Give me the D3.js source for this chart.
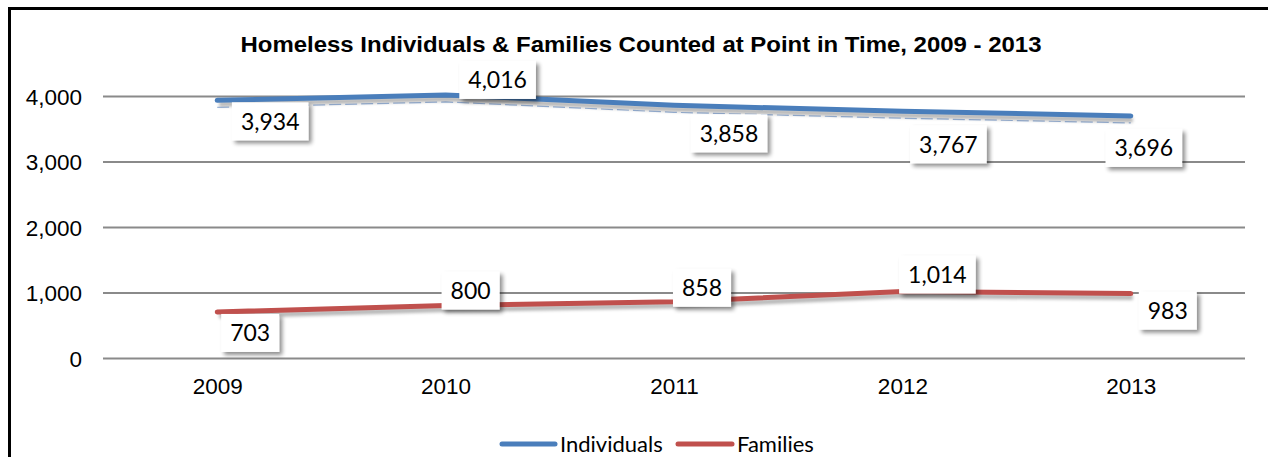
<!DOCTYPE html>
<html><head><meta charset="utf-8">
<script src="https://cdn.jsdelivr.net/npm/d3@7/dist/d3.min.js"></script>
<style>
html,body{margin:0;padding:0;background:#fff;}
svg{display:block;}
</style></head>
<body>
<svg id="chart" width="1268" height="457"></svg>
<script>
const title = "Homeless Individuals & Families Counted at Point in Time, 2009 - 2013";
const years = ["2009","2010","2011","2012","2013"];
const individuals = [3934,4016,3858,3767,3696];
const families = [703,800,858,1014,983];
const yTicks = [0,1000,2000,3000,4000];
const seriesNames = ["Individuals","Families"];
const seriesColors = ["#4a7ebb","#c0504d"];
// label placement offsets (layout only)
const indLabelOffsets = [[53,21],[52,-15],[55,28],[46,33],[13,32]];
const famLabelOffsets = [[33,21],[25,-15],[28,-14],[35,-17],[37,17]];

const svg = d3.select("#chart");
const defs = svg.append("defs");
const sh = defs.append("filter").attr("id","boxShadow").attr("x","-20%").attr("y","-20%").attr("width","150%").attr("height","160%");
sh.append("feGaussianBlur").attr("in","SourceAlpha").attr("stdDeviation",2).attr("result","b");
sh.append("feOffset").attr("in","b").attr("dx",3).attr("dy",3).attr("result","o");
sh.append("feComponentTransfer").attr("in","o").attr("result","o2").append("feFuncA").attr("type","linear").attr("slope",0.45);
const m = sh.append("feMerge"); m.append("feMergeNode").attr("in","o2"); m.append("feMergeNode").attr("in","SourceGraphic");
const ls = defs.append("filter").attr("id","lineShadow").attr("x","-5%").attr("y","-50%").attr("width","110%").attr("height","200%");
ls.append("feGaussianBlur").attr("stdDeviation",1.5);

// frame
svg.append("rect").attr("x",9.5).attr("y",8.5).attr("width",1300).attr("height",500)
  .attr("fill","#fff").attr("stroke","#000").attr("stroke-width",3);

const x = d3.scalePoint().domain(years).range([103,1245]).padding(0.5);
const y = d3.scaleLinear().domain([0,4000]).range([358,96]);

// gridlines + y axis
const yAxis = d3.axisLeft(y).tickValues(yTicks).tickSize(-(1245-103)).tickPadding(21).tickFormat(d3.format(","));
const gy = svg.append("g").attr("transform","translate(103,0)").call(yAxis);
gy.select(".domain").remove();
gy.selectAll(".tick line").attr("stroke","#8a8a8a").attr("stroke-width",2);
gy.selectAll(".tick text").attr("font-family","'Liberation Sans', Arial, sans-serif").attr("font-size",22.5).attr("fill","#000").attr("dy","0.36em").attr("x",-21);

// x axis labels
const xAxis = d3.axisBottom(x).tickSize(0).tickPadding(20);
const gx = svg.append("g").attr("transform","translate(0,358)").call(xAxis);
gx.select(".domain").remove();
gx.selectAll(".tick text").attr("font-family","'Liberation Sans', Arial, sans-serif").attr("font-size",22.5).attr("fill","#000");

// title
svg.append("text").attr("x",641).attr("y",52).attr("text-anchor","middle")
  .attr("font-family","'Liberation Sans', Arial, sans-serif").attr("font-weight","bold").attr("font-size",22)
  .attr("textLength",801).attr("lengthAdjust","spacingAndGlyphs").text(title);

const line = d3.line().x((d,i)=>x(years[i])).y(d=>y(d));
const series = [individuals, families];

// faint dashed echo under the individuals line
svg.append("path").attr("d",line(individuals)).attr("transform","translate(0,7)")
  .attr("fill","none").attr("stroke","#9fb9de").attr("stroke-width",1.2).attr("stroke-dasharray","12,4");

series.forEach((vals,si)=>{
  svg.append("path").attr("d",line(vals)).attr("transform","translate(2,4)")
    .attr("fill","none").attr("stroke","#000").attr("stroke-opacity",0.28).attr("stroke-width",5)
    .attr("filter","url(#lineShadow)");
  svg.append("path").attr("d",line(vals)).attr("fill","none").attr("stroke",seriesColors[si])
    .attr("stroke-width",5).attr("stroke-linecap","round").attr("stroke-linejoin","round");
});

// data labels
const fmt = d3.format(",");
function drawLabels(vals, offs){
  vals.forEach((v,i)=>{
    const cx = x(years[i]) + offs[i][0];
    const cy = y(v) + offs[i][1];
    const g = svg.append("g");
    const t = g.append("text").attr("x",cx).attr("y",cy).attr("text-anchor","middle").attr("dy","0.36em")
      .attr("font-family","Lato, 'Open Sans', sans-serif").attr("font-size",23).attr("fill","#000").text(fmt(v));
    const w = t.node().getComputedTextLength() + 18;
    const h = 38;
    g.insert("rect","text").attr("x",cx-w/2).attr("y",cy-h/2).attr("width",w).attr("height",h)
      .attr("fill","#fff").attr("filter","url(#boxShadow)");
  });
}
drawLabels(individuals, indLabelOffsets);
drawLabels(families, famLabelOffsets);

// legend
const legend = svg.append("g");
const legItems = [{x1:502,x2:555,tx:560},{x1:678,x2:732,tx:737}];
legItems.forEach((it,i)=>{
  legend.append("line").attr("x1",it.x1).attr("x2",it.x2).attr("y1",444).attr("y2",444)
    .attr("stroke",seriesColors[i]).attr("stroke-width",5).attr("stroke-linecap","round");
  legend.append("text").attr("x",it.tx).attr("y",444).attr("dy","0.36em")
    .attr("font-family","Lato, 'Open Sans', sans-serif").attr("font-size",22).attr("fill","#000").text(seriesNames[i]);
});
</script>
</body></html>
